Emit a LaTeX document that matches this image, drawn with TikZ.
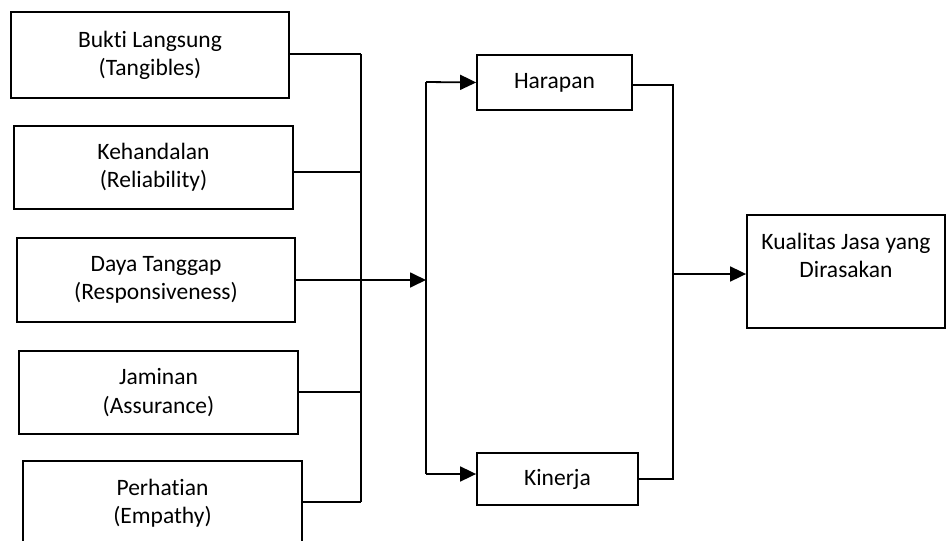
\documentclass[tikz,border=0pt]{standalone}
\usepackage{fontspec}
\setmainfont{Carlito}[Ligatures={NoCommon,NoContextual}]
\usetikzlibrary{arrows.meta}
\begin{document}
\begin{tikzpicture}[x=1pt,y=-1pt,
  every node/.style={font=\fontsize{23.5}{28.2}\selectfont},
  box/.style={draw, line width=1.8pt, align=center, inner sep=0pt, minimum width=279pt, minimum height=84pt},
  smallbox/.style={draw, line width=1.8pt, align=center, inner sep=0pt},
  conn/.style={line width=1.8pt},
  arr/.style={line width=1.8pt, -{Triangle[length=16pt,width=15pt]}}]
\useasboundingbox (0,0) rectangle (946,541);
\clip (0,0) rectangle (946,541);
% input boxes
\node[box, minimum width=278pt, minimum height=86pt] (b1) at (150,55) {Bukti Langsung\\(Tangibles)};
\node[box, minimum height=83pt] (b2) at (153.5,167.5) {Kehandalan\\(Reliability)};
\node[box, minimum width=278pt] (b3) at (156,280) {Daya Tanggap\\(Responsiveness)};
\node[box, minimum height=83pt] (b4) at (158.5,392.5) {Jaminan\\(Assurance)};
\node[box] (b5) at (162.5,503) {Perhatian\\(Empathy)};
% middle boxes
\node[smallbox, minimum width=155pt, minimum height=55pt] (hp) at (554.5,82.5) {Harapan};
\node[smallbox, minimum width=161pt, minimum height=52pt] (kn) at (557.5,479) {Kinerja};
% output box
\node[smallbox, minimum width=198pt, minimum height=113pt] (kq) at (846,271.5)
  {\parbox[c][77pt][t]{190pt}{\centering Kualitas Jasa yang\\Dirasakan}};
% junction coordinates
\coordinate (j1t) at (361,54);
\coordinate (j1b) at (361,502);
\coordinate (j1m) at (361,280);
\coordinate (j2t) at (426,82);
\coordinate (j2b) at (426,474);
\coordinate (j2m) at (426,280);
\coordinate (j3t) at (673,85);
\coordinate (j3b) at (673,479);
\coordinate (j3m) at (673,274);
% first bus
\draw[conn] ([yshift=1pt]b1.east) -- (j1t);
\draw[conn] ([yshift=-4.5pt]b2.east) -- ([yshift=-4.5pt]b2.east -| j1t);
\draw[conn] (b3.east) -- (j1m);
\draw[conn] ([yshift=0.5pt]b4.east) -- ([yshift=0.5pt]b4.east -| j1t);
\draw[conn] ([yshift=1pt]b5.east) -- (j1b);
\draw[conn] (j1t) -- (j1b);
\draw[arr] (j1m) -- (j2m);
% second bus
\draw[conn] (j2t) -- (j2b);
\draw[arr] (j2t) -- (hp.west);
\draw[arr] (j2b) -- ([yshift=5pt]kn.west);
% third bus
\draw[conn] ([yshift=-2.5pt]hp.east) -- (j3t) -- (j3b) -- (kn.east);
\draw[arr] (j3m) -- ([yshift=-2.5pt]kq.west);
\end{tikzpicture}
\end{document}
